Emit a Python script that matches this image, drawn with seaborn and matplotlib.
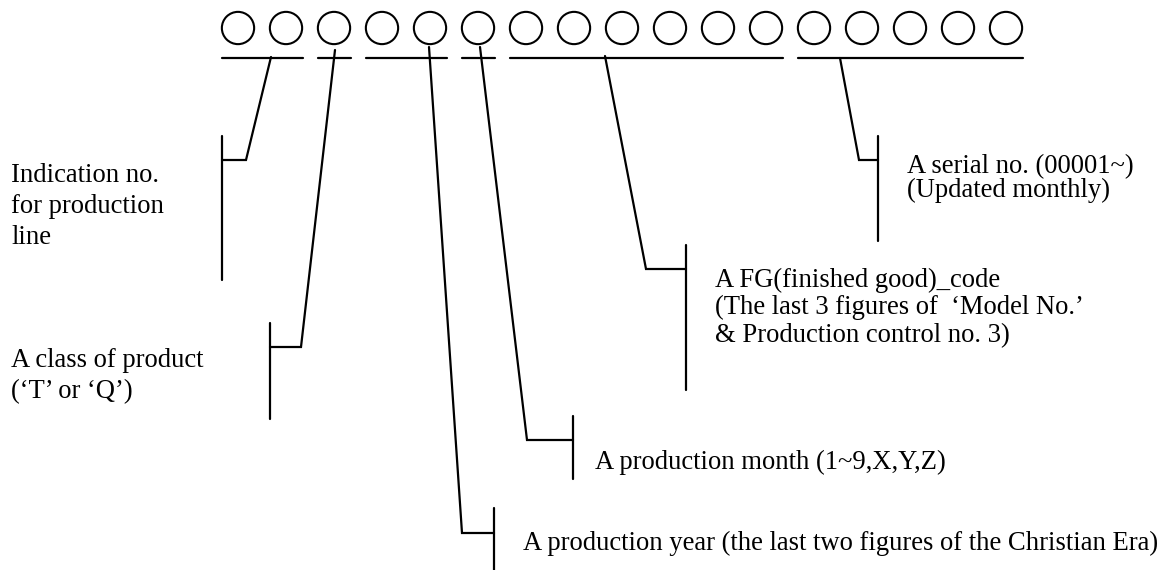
import matplotlib
matplotlib.use("Agg")
import matplotlib.pyplot as plt
import seaborn as sns
import pandas as pd

# fields of the serial number, left to right
fields = ["line", "class", "year", "month", "fg_code", "serial"]
group_sizes = [2, 1, 2, 1, 6, 5]
label_lines = [
    ["Indication no.", "for production", "line"],
    ["A class of product", "(\u2018T\u2019 or \u2018Q\u2019)"],
    ["A production year (the last two figures of the Christian Era)"],
    ["A production month (1~9,X,Y,Z)"],
    ["A FG(finished good)_code",
     "(The last 3 figures of  \u2018Model No.\u2019",
     "& Production control no. 3)"],
    ["A serial no. (00001~)", "(Updated monthly)"],
]

# layout (pixel units, y grows downward)
x0, pitch, r = 238, 48, 16.5
circle_y, under_y = 28, 58
leader_top = [(271, 57), (335, 50), (429, 47), (480, 47), (605, 56), (840, 58)]
leader_elbow = [(246, 160), (301, 347), (462, 533), (527, 440), (646, 269), (859, 160)]
bar_x = [222, 270, 494, 573, 686, 878]
bar_span = [(136, 280), (323, 419), (508, 575), (416, 479), (245, 390), (136, 241)]
text_x = [11, 11, 523, 595, 715, 907]
text_base = [[182, 213, 244], [367, 398], [550], [469], [287, 314, 342], [173, 197]]

sns.set_theme(style="white")
plt.rcParams["font.family"] = ["Liberation Serif", "DejaVu Serif"]

fig = plt.figure(figsize=(11.73, 5.70), dpi=100)
ax = fig.add_axes([0, 0, 1, 1])
ax.set_xlim(0, 1173)
ax.set_ylim(570, 0)
ax.axis("off")

# one row per digit circle
rows = []
idx = 0
for f, n in zip(fields, group_sizes):
    for k in range(n):
        rows.append({"field": f, "digit": idx})
        idx += 1
digits = pd.DataFrame(rows)
digits["x"] = x0 + pitch * digits["digit"]
digits["y"] = circle_y

sns.scatterplot(data=digits, x="x", y="y", ax=ax, marker="o", s=540,
                facecolor="none", edgecolor="black", linewidth=1.5, legend=False)

lw = 1.6
for i, f in enumerate(fields):
    g = digits[digits["field"] == f]
    ax.plot([g["x"].min() - r, g["x"].max() + r], [under_y, under_y], color="black", lw=lw)
    (tx, ty), (ex, ey) = leader_top[i], leader_elbow[i]
    ax.plot([tx, ex, bar_x[i]], [ty, ey, ey], color="black", lw=lw, solid_joinstyle="miter")
    ax.plot([bar_x[i], bar_x[i]], bar_span[i], color="black", lw=lw)
    for line, yb in zip(label_lines[i], text_base[i]):
        ax.text(text_x[i], yb, line, fontsize=19.2, va="baseline", ha="left", color="black")

fig.savefig("out.png", dpi=100)
